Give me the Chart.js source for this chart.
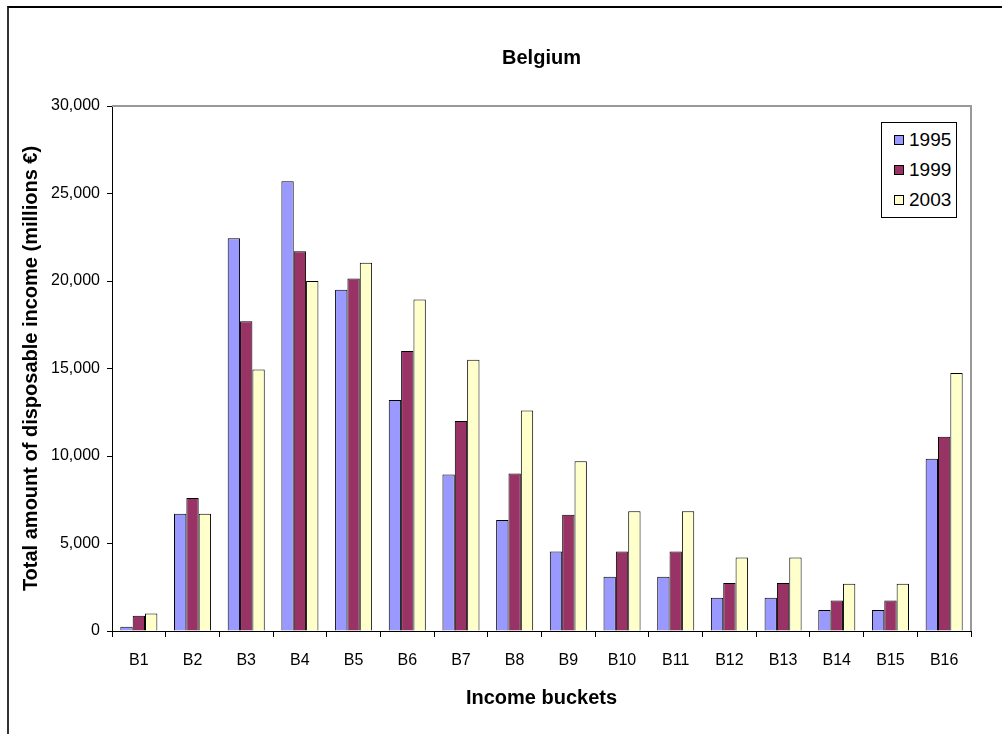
<!DOCTYPE html>
<html>
<head>
<meta charset="utf-8">
<title>Belgium</title>
<script src="https://cdn.jsdelivr.net/npm/chart.js@4/dist/chart.umd.min.js"></script>
<style>
  html, body { margin: 0; padding: 0; background: #fff; overflow: hidden; }
  #wrap { position: relative; width: 1002px; height: 734px; }
  #frame { position: absolute; left: 7px; top: 6px; width: 1100px; height: 800px;
           border-left: 2px solid #333; border-top: 2px solid #000; }
  #chart { position: absolute; left: 0; top: 0; }
  #legend { position: absolute; left: 881px; top: 122px; width: 74px; height: 94px;
            border: 1px solid #000; background: #fff;
            font-family: "Liberation Sans", Arial, sans-serif; font-size: 19px; color: #000; }
  #legend .item { position: absolute; left: 12px; height: 22px; line-height: 22px; }
  #legend .sw { display: inline-block; width: 8px; height: 8px; border: 1px solid #000;
                margin-right: 5px; vertical-align: 1px; }
</style>
</head>
<body>
<div id="wrap">
  <div id="frame"></div>
  <canvas id="chart" width="1002" height="734"></canvas>
  <div id="legend"></div>
</div>
<script>
// ---------- data ----------
const buckets = ['B1', 'B2', 'B3', 'B4', 'B5', 'B6', 'B7', 'B8',
                 'B9', 'B10', 'B11', 'B12', 'B13', 'B14', 'B15', 'B16'];
const years = ['1995', '1999', '2003'];
const values1995 = [250, 6700, 22450, 25700, 19500, 13200, 8950, 6350,
                    4550, 3100, 3100, 1900, 1900, 1200, 1200, 9850];
const values1999 = [870, 7600, 17700, 21700, 20150, 16000, 12000, 9000,
                    6650, 4550, 4550, 2750, 2750, 1750, 1750, 11100];
const values2003 = [1000, 6700, 14950, 20000, 21050, 18950, 15500, 12600,
                    9700, 6850, 6850, 4200, 4200, 2700, 2700, 14750];
const barColors = ['#9999FF', '#993366', '#FFFFCC'];

const FONT = '"Liberation Sans", Arial, sans-serif';

// gray top/right edge of the plot area, like the Excel original
const plotFrame = {
  id: 'plotFrame',
  afterDraw(chart) {
    const { ctx, chartArea: a } = chart;
    ctx.save();
    ctx.strokeStyle = '#999';
    ctx.lineWidth = 2;
    ctx.beginPath();
    ctx.moveTo(a.left, a.top);
    ctx.lineTo(a.right, a.top);
    ctx.lineTo(a.right, a.bottom);
    ctx.stroke();
    ctx.restore();
  }
};

const series = [values1995, values1999, values2003];

new Chart(document.getElementById('chart'), {
  type: 'bar',
  data: {
    labels: buckets,
    datasets: series.map((vals, i) => ({
      label: years[i],
      data: vals,
      backgroundColor: barColors[i],
      borderColor: '#000',
      borderWidth: 1,
      categoryPercentage: 0.69,
      barPercentage: 1.0
    }))
  },
  options: {
    responsive: false,
    devicePixelRatio: 1,
    animation: false,
    layout: { padding: { left: 0, right: 31, top: 0, bottom: 0 } },
    plugins: {
      legend: { display: false },
      tooltip: { enabled: false },
      title: {
        display: true,
        text: 'Belgium',
        fullSize: false,
        color: '#000',
        font: { family: FONT, size: 20, weight: 'bold' },
        padding: { top: 46, bottom: 36 }
      }
    },
    scales: {
      x: {
        grid: { drawOnChartArea: false, color: '#000', tickLength: 6, offset: true },
        border: { color: '#000', width: 1 },
        ticks: { color: '#000', font: { family: FONT, size: 16 }, padding: 14, maxRotation: 0 },
        title: {
          display: true,
          text: 'Income buckets',
          color: '#000',
          font: { family: FONT, size: 20, weight: 'bold' },
          padding: { top: 0, bottom: 24 }
        },
        afterFit(scale) { scale.height = 103; }
      },
      y: {
        min: 0,
        max: 30000,
        grid: { drawOnChartArea: false, color: '#000', tickLength: 5 },
        border: { color: '#000', width: 1 },
        ticks: {
          stepSize: 5000,
          color: '#000',
          font: { family: FONT, size: 16 },
          padding: 7,
          callback: v => v.toLocaleString('en-US')
        },
        title: {
          display: true,
          text: 'Total amount of disposable income (millions €)',
          color: '#000',
          font: { family: FONT, size: 20, weight: 'bold' },
          padding: { top: 19, bottom: 0 }
        },
        afterFit(scale) { scale.width = 112; }
      }
    }
  },
  plugins: [plotFrame]
});

// legend box (html), placed over the top right of the plot
const legendEl = document.getElementById('legend');
years.forEach((y, i) => {
  const item = document.createElement('div');
  item.className = 'item';
  item.style.top = (6 + i * 30) + 'px';
  item.innerHTML = '<span class="sw" style="background:' + barColors[i] + '"></span>' + y;
  legendEl.appendChild(item);
});
</script>
</body>
</html>
